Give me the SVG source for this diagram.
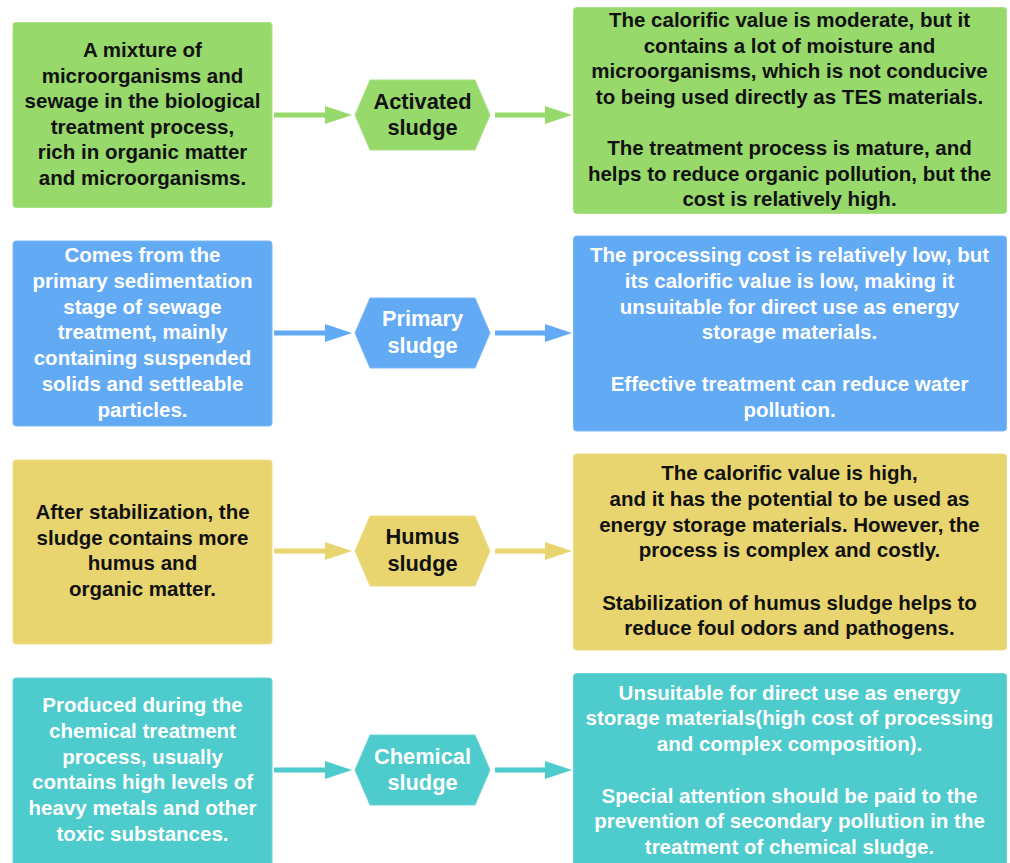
<svg xmlns="http://www.w3.org/2000/svg" width="1010" height="863" viewBox="0 0 1010 863">
<style>
text{font-family:"Liberation Sans",Arial,sans-serif;font-weight:bold;font-size:20.5px;text-anchor:middle}
text.h{font-size:21.8px}
.dk{fill:#111}
.lt{fill:#fff}
.g{fill:#97d96b;stroke:#a9e084;stroke-width:1}
.b{fill:#63aaf5;stroke:#7db8f7;stroke-width:1}
.y{fill:#e8d56f;stroke:#eedd8a;stroke-width:1}
.t{fill:#4ecbcc;stroke:#6bd3d4;stroke-width:1}
.sg{stroke:#97d96b}
.sb{stroke:#63aaf5}
.sy{stroke:#e8d56f}
.st{stroke:#4ecbcc}
.ar line{stroke-width:5}
</style>
<defs>
<marker id="mg" markerUnits="userSpaceOnUse" markerWidth="27" markerHeight="18" refX="0" refY="9" orient="auto"><path d="M0,0 L27,9 L0,18 z" fill="#97d96b"/></marker>
<marker id="mb" markerUnits="userSpaceOnUse" markerWidth="27" markerHeight="18" refX="0" refY="9" orient="auto"><path d="M0,0 L27,9 L0,18 z" fill="#63aaf5"/></marker>
<marker id="my" markerUnits="userSpaceOnUse" markerWidth="27" markerHeight="18" refX="0" refY="9" orient="auto"><path d="M0,0 L27,9 L0,18 z" fill="#e8d56f"/></marker>
<marker id="mt" markerUnits="userSpaceOnUse" markerWidth="27" markerHeight="18" refX="0" refY="9" orient="auto"><path d="M0,0 L27,9 L0,18 z" fill="#4ecbcc"/></marker>
</defs>
<rect width="1010" height="863" fill="#fff"/>

<g id="connectors" class="ar">
<line class="sg" x1="274" y1="115" x2="325" y2="115" marker-end="url(#mg)"/>
<line class="sg" x1="495" y1="115" x2="545" y2="115" marker-end="url(#mg)"/>
<line class="sb" x1="274" y1="333" x2="325" y2="333" marker-end="url(#mb)"/>
<line class="sb" x1="495" y1="333" x2="545" y2="333" marker-end="url(#mb)"/>
<line class="sy" x1="274" y1="551" x2="325" y2="551" marker-end="url(#my)"/>
<line class="sy" x1="495" y1="551" x2="545" y2="551" marker-end="url(#my)"/>
<line class="st" x1="274" y1="770" x2="325" y2="770" marker-end="url(#mt)"/>
<line class="st" x1="495" y1="770" x2="545" y2="770" marker-end="url(#mt)"/>
</g>

<g id="activated-desc">
<rect class="g" x="13" y="22.500" width="259" height="185" rx="3"/>
<text class="dk"><tspan x="142.5" y="57">A mixture of</tspan><tspan x="142.5" y="82.5">microorganisms and</tspan><tspan x="142.5" y="108">sewage in the biological</tspan><tspan x="142.5" y="133.5">treatment process,</tspan><tspan x="142.5" y="159">rich in organic matter</tspan><tspan x="142.5" y="185">and microorganisms.</tspan></text>
</g>
<g id="activated">
<polygon class="g" points="355,115 370,80 475,80 490,115 475,150 370,150"/>
<text class="dk h"><tspan x="422.5" y="109">Activated</tspan><tspan x="422.5" y="135">sludge</tspan></text>
</g>
<g id="activated-eval">
<rect class="g" x="573.500" y="7.500" width="433" height="206" rx="3"/>
<text class="dk"><tspan x="789.5" y="27">The calorific value is moderate, but it</tspan><tspan x="789.5" y="52.5">contains a lot of moisture and</tspan><tspan x="789.5" y="78">microorganisms, which is not conducive</tspan><tspan x="789.5" y="104">to being used directly as TES materials.</tspan><tspan x="789.5" y="155">The treatment process is mature, and</tspan><tspan x="789.5" y="181">helps to reduce organic pollution, but the</tspan><tspan x="789.5" y="206">cost is relatively high.</tspan></text>
</g>

<g id="primary-desc">
<rect class="b" x="13" y="241" width="259" height="185" rx="3"/>
<text class="lt"><tspan x="142.5" y="262">Comes from the</tspan><tspan x="142.5" y="288">primary sedimentation</tspan><tspan x="142.5" y="314">stage of sewage</tspan><tspan x="142.5" y="339">treatment, mainly</tspan><tspan x="142.5" y="365">containing suspended</tspan><tspan x="142.5" y="391">solids and settleable</tspan><tspan x="142.5" y="417">particles.</tspan></text>
</g>
<g id="primary">
<polygon class="b" points="355,333 370,298 475,298 490,333 475,368 370,368"/>
<text class="lt h"><tspan x="422.5" y="326">Primary</tspan><tspan x="422.5" y="353">sludge</tspan></text>
</g>
<g id="primary-eval">
<rect class="b" x="573.500" y="236" width="433" height="195" rx="3"/>
<text class="lt"><tspan x="789.5" y="262">The processing cost is relatively low, but</tspan><tspan x="789.5" y="288">its calorific value is low, making it</tspan><tspan x="789.5" y="314">unsuitable for direct use as energy</tspan><tspan x="789.5" y="339">storage materials.</tspan><tspan x="789.5" y="391">Effective treatment can reduce water</tspan><tspan x="789.5" y="417">pollution.</tspan></text>
</g>

<g id="humus-desc">
<rect class="y" x="13" y="460" width="259" height="184" rx="3"/>
<text class="dk"><tspan x="142.5" y="519">After stabilization, the</tspan><tspan x="142.5" y="545">sludge contains more</tspan><tspan x="142.5" y="570">humus and</tspan><tspan x="142.5" y="596">organic matter.</tspan></text>
</g>
<g id="humus">
<polygon class="y" points="355,551 370,516 475,516 490,551 475,586 370,586"/>
<text class="dk h"><tspan x="422.5" y="544">Humus</tspan><tspan x="422.5" y="571">sludge</tspan></text>
</g>
<g id="humus-eval">
<rect class="y" x="573.500" y="454" width="433" height="196" rx="3"/>
<text class="dk"><tspan x="789.5" y="480">The calorific value is high,</tspan><tspan x="789.5" y="506">and it has the potential to be used as</tspan><tspan x="789.5" y="532">energy storage materials. However, the</tspan><tspan x="789.5" y="557">process is complex and costly.</tspan><tspan x="789.5" y="610">Stabilization of humus sludge helps to</tspan><tspan x="789.5" y="635">reduce foul odors and pathogens.</tspan></text>
</g>

<g id="chemical-desc">
<rect class="t" x="13" y="678" width="259" height="190" rx="3"/>
<text class="lt"><tspan x="142.5" y="712">Produced during the</tspan><tspan x="142.5" y="738">chemical treatment</tspan><tspan x="142.5" y="764">process, usually</tspan><tspan x="142.5" y="789">contains high levels of</tspan><tspan x="142.5" y="815">heavy metals and other</tspan><tspan x="142.5" y="841">toxic substances.</tspan></text>
</g>
<g id="chemical">
<polygon class="t" points="355,770 370,735 475,735 490,770 475,805 370,805"/>
<text class="lt h"><tspan x="422.5" y="764">Chemical</tspan><tspan x="422.5" y="790">sludge</tspan></text>
</g>
<g id="chemical-eval">
<rect class="t" x="573.500" y="673.500" width="433" height="195" rx="3"/>
<text class="lt"><tspan x="789.5" y="700">Unsuitable for direct use as energy</tspan><tspan x="789.5" y="725">storage materials(high cost of processing</tspan><tspan x="789.5" y="751">and complex composition).</tspan><tspan x="789.5" y="803">Special attention should be paid to the</tspan><tspan x="789.5" y="828">prevention of secondary pollution in the</tspan><tspan x="789.5" y="854">treatment of chemical sludge.</tspan></text>
</g>
</svg>
